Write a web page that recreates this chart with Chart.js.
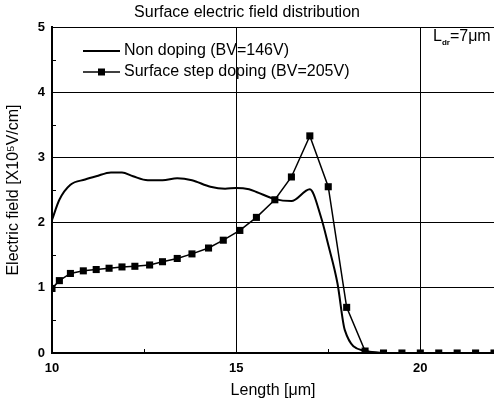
<!DOCTYPE html>
<html>
<head>
<meta charset="utf-8">
<script src="https://cdn.jsdelivr.net/npm/chart.js@4"></script>
<style>
  html, body { margin: 0; padding: 0; background: #fff; }
  #c { display: block; }
</style>
</head>
<body>
<canvas id="c" width="494" height="403"></canvas>
<script>
// ---- data ----
const nonDopingX = [10.0, 10.2, 10.5, 10.9, 11.2, 11.6, 11.9, 12.2, 12.6, 13.0, 13.4, 13.8, 14.3, 14.7, 15.0, 15.35, 15.55, 16.05, 16.5, 17.0, 17.3, 17.5, 17.75, 17.95, 18.5, 19.0, 20.0, 21.0, 22.0];
const nonDopingY = [2.04, 2.35, 2.58, 2.66, 2.71, 2.77, 2.77, 2.71, 2.65, 2.65, 2.68, 2.65, 2.55, 2.52, 2.53, 2.51, 2.47, 2.36, 2.33, 2.51, 2.09, 1.66, 1.07, 0.35, 0.03, 0, 0, 0, 0];
const stepDopingX = [10.0, 10.2, 10.5, 10.85, 11.2, 11.55, 11.9, 12.25, 12.65, 13.0, 13.4, 13.8, 14.25, 14.65, 15.1, 15.55, 16.05, 16.5, 17.0, 17.5, 18.0, 18.5, 19.0, 19.5, 20.0, 20.5, 21.0, 21.5, 22.0];
const stepDopingY = [0.99, 1.11, 1.22, 1.26, 1.28, 1.30, 1.32, 1.33, 1.35, 1.40, 1.45, 1.52, 1.61, 1.73, 1.88, 2.08, 2.35, 2.70, 3.33, 2.55, 0.70, 0.03, 0, 0, 0, 0, 0, 0, 0];
const seriesNames = ["Non doping (BV=146V)", "Surface step doping (BV=205V)"];
const xTicks = [10, 12.5, 15, 17.5, 20];
const xLabelTicks = [10, 15, 20];
const yTicks = [0, 1, 2, 3, 4, 5];
const yMinorTicks = [0.5, 1.5, 2.5, 3.5, 4.5];
const xMinorTicks = [12.5, 17.5];

const FONT = "'Liberation Sans', Arial, sans-serif";

const toPts = (xs, ys) => xs.map((x, i) => ({ x: x, y: ys[i] }));

const extrasPlugin = {
  id: 'extras',
  afterDraw(chart) {
    const ctx = chart.ctx;
    const xs = chart.scales.x, ys = chart.scales.y;
    const area = chart.chartArea;
    ctx.save();
    ctx.strokeStyle = '#000';
    ctx.lineWidth = 1;
    yMinorTicks.forEach(v => {
      const py = Math.round(ys.getPixelForValue(v)) + 0.5;
      ctx.beginPath(); ctx.moveTo(area.left, py); ctx.lineTo(area.left + 4, py); ctx.stroke();
    });
    xMinorTicks.forEach(v => {
      const px = Math.round(xs.getPixelForValue(v)) + 0.5;
      ctx.beginPath(); ctx.moveTo(px, area.bottom); ctx.lineTo(px, area.bottom - 4); ctx.stroke();
    });

    const ds0 = chart.data.datasets[0], ds1 = chart.data.datasets[1];
    ctx.font = '16px ' + FONT;
    ctx.fillStyle = '#000';
    ctx.textBaseline = 'middle';
    ctx.textAlign = 'left';
    let y1 = 51, y2 = 72, lx0 = 83, lx1 = 120, tx = 124;
    ctx.strokeStyle = ds0.borderColor; ctx.lineWidth = ds0.borderWidth;
    ctx.beginPath(); ctx.moveTo(lx0, y1); ctx.lineTo(lx1, y1); ctx.stroke();
    ctx.fillText(seriesNames[0], tx, y1);
    ctx.strokeStyle = ds1.borderColor; ctx.lineWidth = ds1.borderWidth;
    ctx.beginPath(); ctx.moveTo(lx0, y2); ctx.lineTo(lx1, y2); ctx.stroke();
    ctx.fillStyle = ds1.pointBackgroundColor;
    ctx.fillRect(101.5 - 3.5, y2 - 3.5, 7, 7);
    ctx.fillStyle = '#000';
    ctx.fillText(seriesNames[1], tx, y2);

    let ax = 433, ay = 37;
    ctx.font = '16px ' + FONT;
    ctx.fillText('L', ax, ay);
    ax += ctx.measureText('L').width;
    ctx.font = 'bold 8px ' + FONT;
    ctx.fillText('dr', ax, ay + 6);
    ax += ctx.measureText('dr').width;
    ctx.font = '16px ' + FONT;
    ctx.fillText('=7μm', ax, ay);
    ctx.restore();
  }
};

new Chart(document.getElementById('c'), {
  type: 'line',
  data: {
    datasets: [
      {
        label: seriesNames[0],
        data: toPts(nonDopingX, nonDopingY),
        borderColor: '#000',
        backgroundColor: '#000',
        borderWidth: 2,
        pointRadius: 0,
        cubicInterpolationMode: 'monotone',
        fill: false
      },
      {
        label: seriesNames[1],
        data: toPts(stepDopingX, stepDopingY),
        borderColor: '#000',
        backgroundColor: '#000',
        borderWidth: 1.5,
        pointStyle: 'rect',
        pointRadius: 5,
        pointBackgroundColor: '#000',
        pointBorderColor: '#000',
        pointBorderWidth: 0,
        tension: 0,
        fill: false
      }
    ]
  },
  options: {
    responsive: false,
    animation: false,
    devicePixelRatio: 1,
    layout: { autoPadding: false, padding: { left: 0, right: 0, top: 0, bottom: 0 } },
    plugins: {
      legend: { display: false },
      tooltip: { enabled: false },
      title: {
        display: true,
        text: 'Surface electric field distribution',
        color: '#000',
        font: { family: FONT, size: 16, weight: 'normal' },
        padding: { top: 3, bottom: 4.8 }
      }
    },
    scales: {
      x: {
        type: 'linear',
        position: 'bottom',
        min: 10,
        max: 22,
        afterBuildTicks: (s) => { s.ticks = xTicks.map(v => ({ value: v })); },
        afterFit: (s) => { s.height = 50; s.paddingRight = 0; s.paddingLeft = 0; },
        ticks: {
          color: '#000',
          padding: 8,
          maxRotation: 0,
          autoSkip: false,
          font: { family: FONT, size: 13, weight: 'bold' },
          callback: (v) => xLabelTicks.includes(v) ? String(v) : ''
        },
        grid: {
          drawTicks: false,
          lineWidth: 1,
          color: (c) => (c.tick && (c.tick.value === 15 || c.tick.value === 20)) ? '#000' : 'rgba(0,0,0,0)'
        },
        border: { display: true, color: '#000', width: 2 },
        title: {
          display: true,
          text: 'Length [μm]',
          color: '#000',
          font: { family: FONT, size: 16 },
          padding: { top: 0, bottom: 3 }
        }
      },
      y: {
        type: 'linear',
        min: 0,
        max: 5,
        afterBuildTicks: (s) => { s.ticks = yTicks.map(v => ({ value: v })); },
        afterFit: (s) => { s.width = 52; },
        ticks: {
          color: '#000',
          padding: 7,
          font: { family: FONT, size: 13, weight: 'bold' },
          callback: (v) => String(v)
        },
        grid: {
          drawTicks: false,
          lineWidth: 1,
          color: (c) => (c.tick && c.tick.value > 0) ? '#000' : 'rgba(0,0,0,0)'
        },
        border: { display: true, color: '#000', width: 2 },
        title: {
          display: true,
          text: 'Electric field [X10⁵V/cm]',
          color: '#000',
          font: { family: FONT, size: 16 },
          padding: { top: 4, bottom: 0 }
        }
      }
    }
  },
  plugins: [extrasPlugin]
});
</script>
</body>
</html>
